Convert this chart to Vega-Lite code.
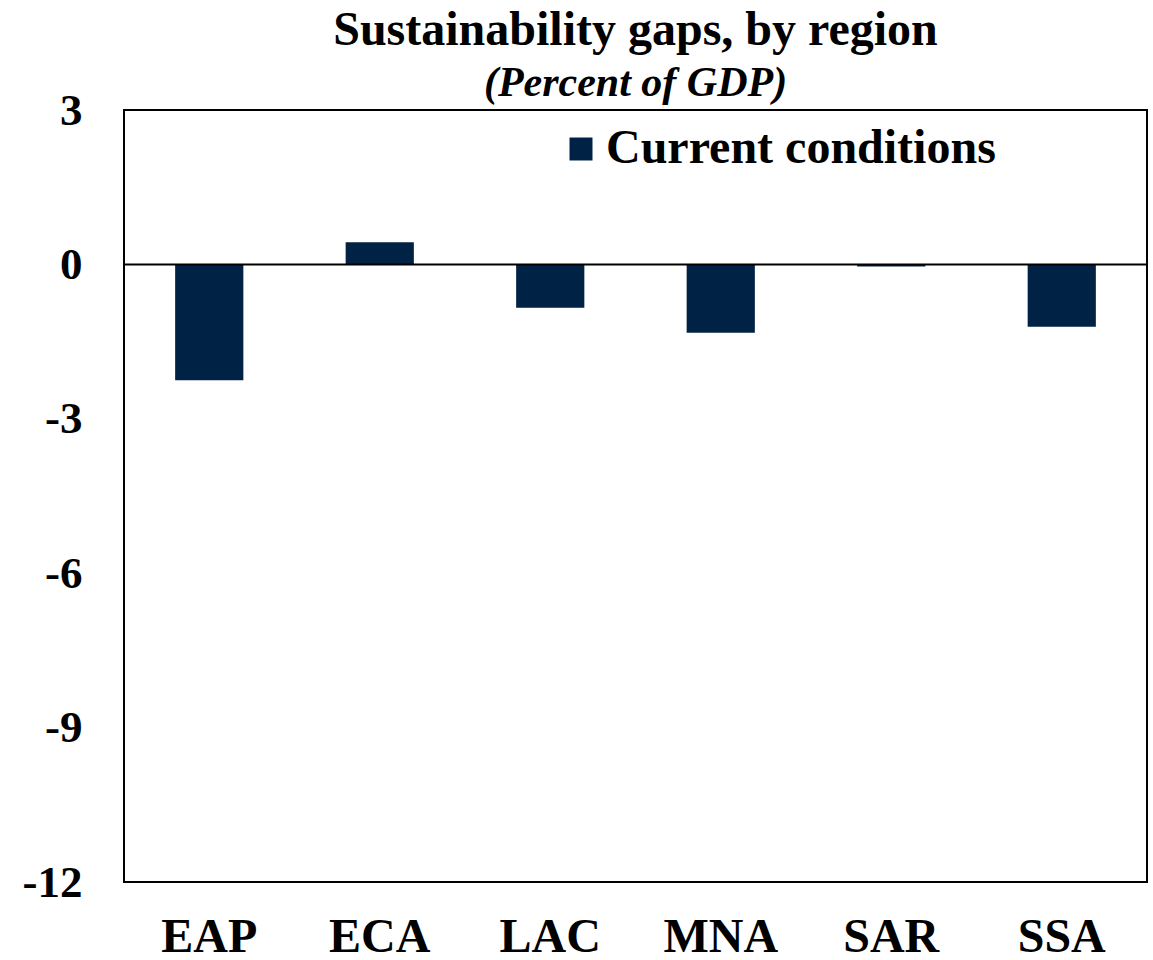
{
  "$schema": "https://vega.github.io/schema/vega-lite/v6.json",
  "width": 1023,
  "height": 772,
  "autosize": {"type": "none"},
  "padding": {"left": 124, "top": 110, "right": 6, "bottom": 78},
  "background": "white",
  "config": {
    "font": "Liberation Serif",
    "view": {"stroke": "black", "strokeWidth": 2},
    "axis": {"labelFont": "Liberation Serif", "labelFontWeight": "bold", "labelColor": "black", "grid": false, "ticks": false, "domain": false}
  },
  "title": {
    "text": "Sustainability gaps, by region",
    "subtitle": "(Percent of GDP)",
    "font": "Liberation Serif",
    "fontSize": 48,
    "fontWeight": "bold",
    "color": "black",
    "subtitleFont": "Liberation Serif",
    "subtitleFontSize": 42,
    "subtitleFontWeight": "bold",
    "subtitleFontStyle": "italic",
    "subtitleColor": "black",
    "subtitlePadding": 8,
    "anchor": "middle",
    "offset": -16
  },
  "data": {
    "values": [
      {"region": "EAP", "value": -2.25, "series": "Current conditions"},
      {"region": "ECA", "value": 0.43, "series": "Current conditions"},
      {"region": "LAC", "value": -0.84, "series": "Current conditions"},
      {"region": "MNA", "value": -1.33, "series": "Current conditions"},
      {"region": "SAR", "value": -0.04, "series": "Current conditions"},
      {"region": "SSA", "value": -1.21, "series": "Current conditions"}
    ]
  },
  "layer": [
    {
      "mark": {"type": "bar"},
      "encoding": {
        "x": {
          "field": "region", "type": "nominal", "sort": null,
          "scale": {"paddingInner": 0.6, "paddingOuter": 0.3},
          "axis": {"title": null, "labelAngle": 0, "labelFontSize": 48, "labelPadding": 31}
        },
        "y": {
          "field": "value", "type": "quantitative",
          "scale": {"domain": [-12, 3], "nice": false, "zero": false},
          "axis": {"title": null, "values": [-12, -9, -6, -3, 0, 3], "labelExpr": "'' + datum.value", "labelFontSize": 45, "labelPadding": 42}
        },
        "color": {
          "field": "series", "type": "nominal",
          "scale": {"range": ["#002244"]},
          "legend": {
            "title": null,
            "orient": "none",
            "legendX": 433,
            "legendY": 15,
            "padding": 0,
            "symbolType": "square",
            "symbolSize": 529,
            "symbolStrokeWidth": 0,
            "symbolOpacity": 1,
            "labelFont": "Liberation Serif",
            "labelFontSize": 48,
            "labelFontWeight": "bold",
            "labelColor": "black",
            "labelOffset": 1,
            "labelLimit": 600
          }
        }
      }
    },
    {
      "data": {"values": [{"zero": 0}]},
      "mark": {"type": "rule", "color": "black", "strokeWidth": 2},
      "encoding": {"y": {"field": "zero", "type": "quantitative"}}
    }
  ]
}
